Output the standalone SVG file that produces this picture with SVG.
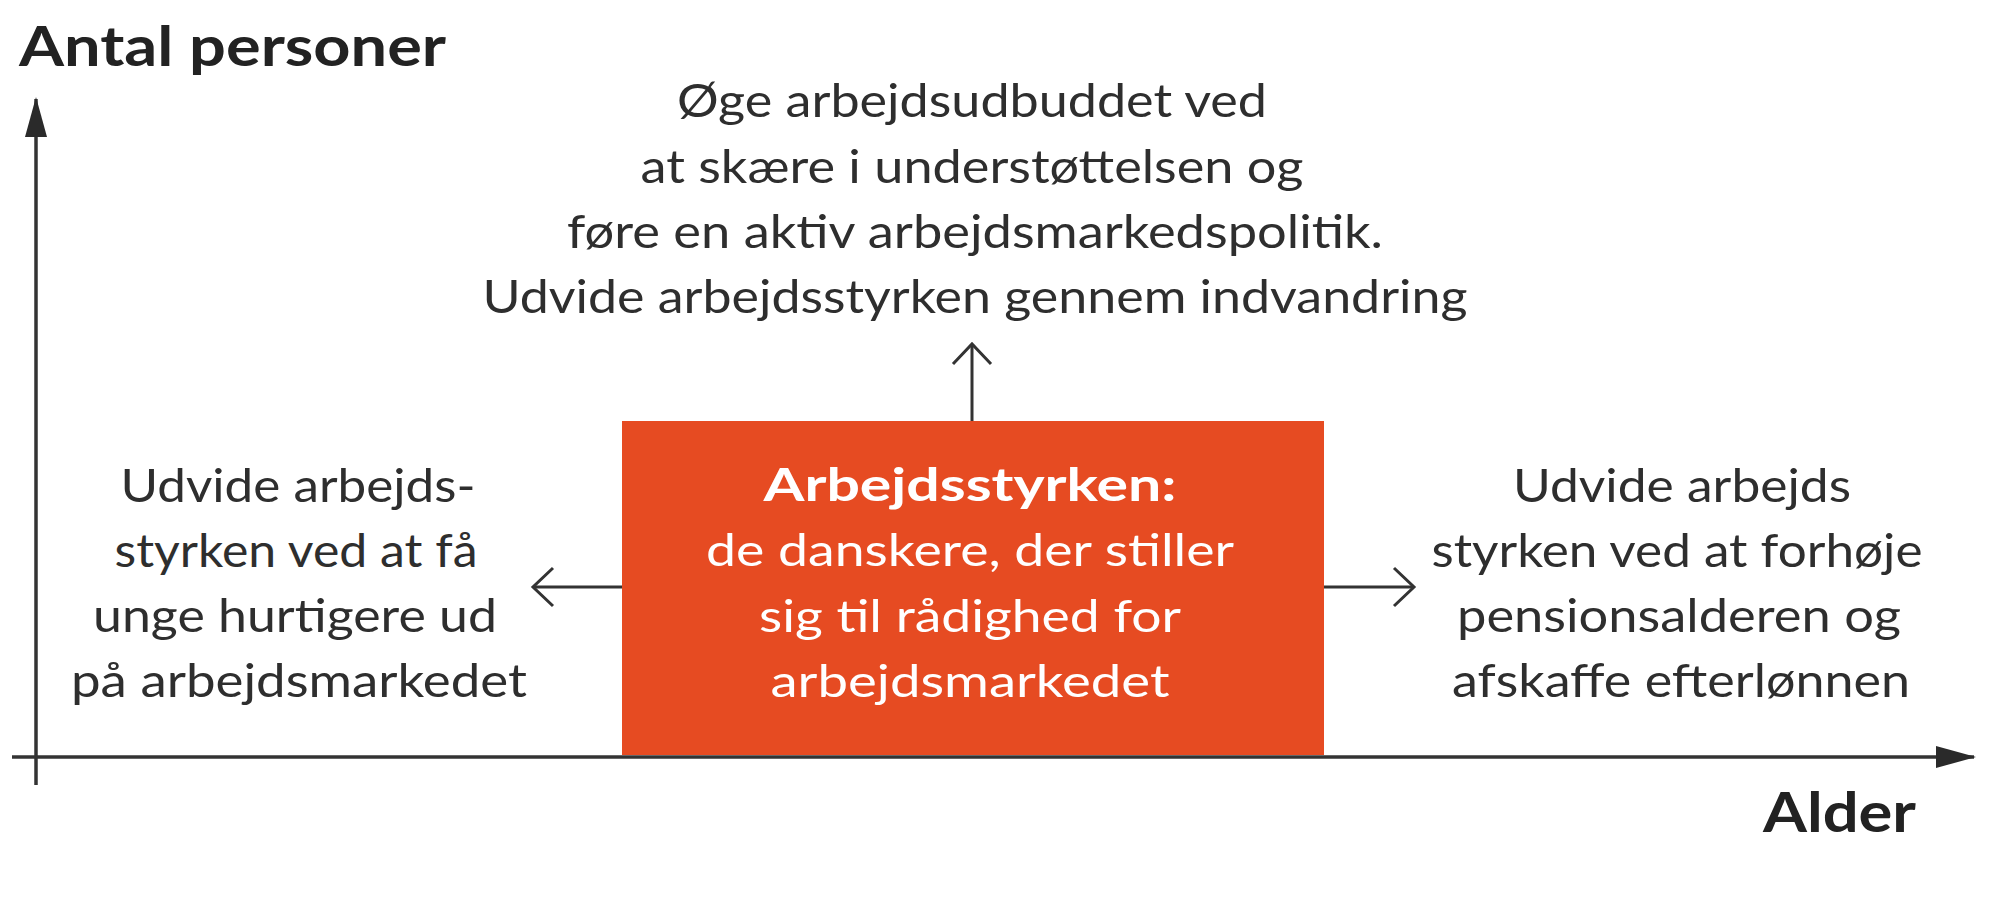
<svg xmlns="http://www.w3.org/2000/svg" width="2000" height="902" viewBox="0 0 2000 902">
<defs>
<style>
.t{font-family:Lato,"Open Sans","Noto Sans",sans-serif;font-size:46px;fill:#2e2e2e;text-anchor:middle}
.w{font-family:Lato,"Open Sans","Noto Sans",sans-serif;font-size:45px;fill:#ffffff;text-anchor:middle}
.b{font-weight:700}
.ax{font-family:Lato,"Open Sans","Noto Sans",sans-serif;font-size:55px;font-weight:700;fill:#222}
.axis{stroke:#333;stroke-width:3.5;fill:none}
.conn{stroke:#333;stroke-width:3;fill:none}
.chev{stroke:#333;stroke-width:3;fill:none;stroke-linejoin:miter}
</style>
<marker id="solid" viewBox="0 0 40 24" refX="38" refY="12" markerWidth="40" markerHeight="24" markerUnits="userSpaceOnUse" orient="auto">
<path d="M0,1 L40,12 L0,23 Z" fill="#2a2a2a"/>
</marker>
</defs>
<rect width="2000" height="902" fill="#ffffff"/>

<g id="axes">
<line class="axis" x1="36" y1="785" x2="36" y2="99" marker-end="url(#solid)"/>
<line class="axis" x1="12" y1="757" x2="1974" y2="757" marker-end="url(#solid)"/>
<text id="ylabel" class="ax" x="19" y="66" textLength="427" lengthAdjust="spacingAndGlyphs">Antal personer</text>
<text id="xlabel" class="ax" x="1763" y="832" textLength="153" lengthAdjust="spacingAndGlyphs">Alder</text>
</g>

<g id="center-box">
<rect x="622" y="421" width="702" height="334" fill="#E64B22"/>
<text class="w b" x="970" y="501" textLength="413" lengthAdjust="spacingAndGlyphs">Arbejdsstyrken:</text>
<text class="w" x="970" y="566" textLength="528" lengthAdjust="spacingAndGlyphs">de danskere, der stiller</text>
<text class="w" x="970" y="632" textLength="422" lengthAdjust="spacingAndGlyphs">sig til rådighed for</text>
<text class="w" x="970" y="697" textLength="399" lengthAdjust="spacingAndGlyphs">arbejdsmarkedet</text>
</g>

<g id="top-text">
<text class="t" x="972" y="117" textLength="590" lengthAdjust="spacingAndGlyphs">Øge arbejdsudbuddet ved</text>
<text class="t" x="972" y="183" textLength="663" lengthAdjust="spacingAndGlyphs">at skære i understøttelsen og</text>
<text class="t" x="975" y="248" textLength="816" lengthAdjust="spacingAndGlyphs">føre en aktiv arbejdsmarkedspolitik.</text>
<text class="t" x="975" y="313" textLength="985" lengthAdjust="spacingAndGlyphs">Udvide arbejdsstyrken gennem indvandring</text>
</g>

<g id="left-text">
<text class="t" x="298" y="502" textLength="355" lengthAdjust="spacingAndGlyphs">Udvide arbejds-</text>
<text class="t" x="296" y="567" textLength="363" lengthAdjust="spacingAndGlyphs">styrken ved at få</text>
<text class="t" x="295" y="632" textLength="404" lengthAdjust="spacingAndGlyphs">unge hurtigere ud</text>
<text class="t" x="299" y="697" textLength="456" lengthAdjust="spacingAndGlyphs">på arbejdsmarkedet</text>
</g>

<g id="right-text">
<text class="t" x="1682" y="502" textLength="338" lengthAdjust="spacingAndGlyphs">Udvide arbejds</text>
<text class="t" x="1677" y="567" textLength="491" lengthAdjust="spacingAndGlyphs">styrken ved at forhøje</text>
<text class="t" x="1679" y="632" textLength="444" lengthAdjust="spacingAndGlyphs">pensionsalderen og</text>
<text class="t" x="1681" y="697" textLength="458" lengthAdjust="spacingAndGlyphs">afskaffe efterlønnen</text>
</g>

<g id="connectors">
<line class="conn" x1="972" y1="421" x2="972" y2="344"/>
<polyline class="chev" points="953,364 972,344 991,364"/>
<line class="conn" x1="622" y1="587" x2="533" y2="587"/>
<polyline class="chev" points="553,568 533,587 553,606"/>
<line class="conn" x1="1324" y1="587" x2="1414" y2="587"/>
<polyline class="chev" points="1394,568 1414,587 1394,606"/>
</g>
</svg>
